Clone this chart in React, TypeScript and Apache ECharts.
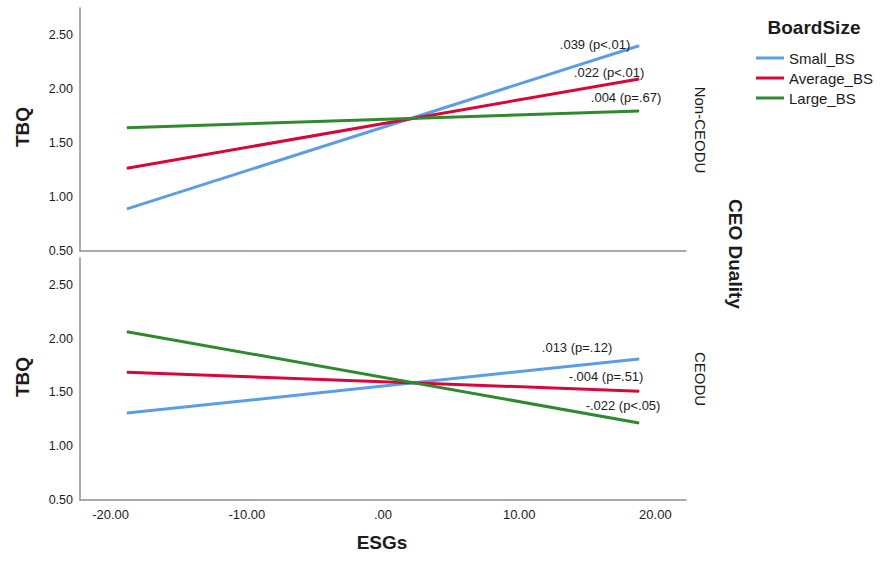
import React, { useEffect, useRef } from "react";
import * as echarts from "echarts";

// ---- data ----
const groups = ["Small_BS", "Average_BS", "Large_BS"];
const esgEnds = [-18.8, 18.8];
// Non-CEODU panel (start, end TBQ)
const nonCeoSmall = [0.89, 2.4];
const nonCeoAverage = [1.266, 2.093];
const nonCeoLarge = [1.642, 1.796];
// CEODU panel
const ceoSmall = [1.308, 1.812];
const ceoAverage = [1.688, 1.512];
const ceoLarge = [2.065, 1.216];
// slope annotations
const nonCeoSlopes = [".039 (p<.01)", ".022 (p<.01)", ".004 (p=.67)"];
const ceoSlopes = [".013 (p=.12)", "-.004 (p=.51)", "-.022 (p<.05)"];
const yTicks = [0.5, 1.0, 1.5, 2.0, 2.5];
const xTicks = [-20, -10, 0, 10, 20];

// ---- style ----
const colors = ["#5b9de6", "#d9063c", "#2f8a2f"];
const FONT = "'Liberation Sans', Arial, sans-serif";
const TXT = "#1c1c1c";
const AXIS = "#8f8f8f";
const nonCeoOffsets = [[-44, 6], [-30, 1], [-13, -6]];
const ceoOffsets = [[-62, -4], [-33, -7], [-16, -10]];

export default function App() {
  const ref = useRef<HTMLDivElement>(null);
  useEffect(() => {
    if (!ref.current) return;
    const chart = echarts.init(ref.current, undefined, { renderer: "svg" });

    const yFmt = (v: number) =>
      yTicks.some((t) => Math.abs(t - v) < 1e-6) ? v.toFixed(2) : "";
    const xFmt = (v: number) => {
      if (!xTicks.some((t) => Math.abs(t - v) < 1e-6)) return "";
      return Math.abs(v) < 1e-6 ? ".00" : v.toFixed(2);
    };

    const mkY = (gi: number) => ({
      type: "value",
      gridIndex: gi,
      min: 0.5,
      max: 2.75,
      interval: 0.5,
      axisLine: { show: true, onZero: false, lineStyle: { color: AXIS, width: 1.5 } },
      axisTick: { show: false },
      splitLine: { show: false },
      axisLabel: {
        formatter: yFmt,
        margin: 7,
        fontSize: 12.5,
        color: TXT,
        fontFamily: FONT,
      },
    });
    const mkX = (gi: number, labels: boolean) => ({
      type: "value",
      gridIndex: gi,
      min: -22.25,
      max: 22.25,
      axisLine: { show: true, onZero: false, lineStyle: { color: AXIS, width: 1.5 } },
      axisTick: { show: false },
      splitLine: { show: false },
      axisLabel: {
        show: labels,
        formatter: xFmt,
        margin: 8,
        fontSize: 13,
        color: TXT,
        fontFamily: FONT,
      },
    });

    const panels = [
      { vals: [nonCeoSmall, nonCeoAverage, nonCeoLarge], slopes: nonCeoSlopes, offs: nonCeoOffsets },
      { vals: [ceoSmall, ceoAverage, ceoLarge], slopes: ceoSlopes, offs: ceoOffsets },
    ];
    const series: any[] = [];
    panels.forEach((p, pi) => {
      p.vals.forEach((vals, gi) => {
        series.push({
          type: "line",
          name: groups[gi],
          xAxisIndex: pi,
          yAxisIndex: pi,
          symbol: "circle",
          symbolSize: 1,
          showSymbol: true,
          color: colors[gi],
          lineStyle: { width: 3, color: colors[gi] },
          itemStyle: { color: colors[gi] },
          emphasis: { disabled: true },
          data: [
            [esgEnds[0], vals[0]],
            {
              value: [esgEnds[1], vals[1]],
              label: {
                show: true,
                formatter: p.slopes[gi],
                position: "top",
                distance: 0,
                offset: p.offs[gi],
                fontSize: 13,
                lineHeight: 14,
                color: TXT,
                fontFamily: FONT,
              },
            },
          ],
        });
      });
    });

    chart.setOption({
      animation: false,
      backgroundColor: "#ffffff",
      grid: [
        { left: 80, top: 8, width: 606, height: 243 },
        { left: 80, top: 258, width: 606, height: 242 },
      ],
      xAxis: [mkX(0, false), mkX(1, true)],
      yAxis: [mkY(0), mkY(1)],
      legend: {
        orient: "vertical",
        left: 756,
        top: 48,
        padding: 0,
        itemWidth: 28,
        itemHeight: 3,
        itemGap: 0,
        icon: "rect",
        selectedMode: false,
        data: groups.map((g, i) => ({ name: g, itemStyle: { color: colors[i] } })),
        textStyle: { fontSize: 15, lineHeight: 20, color: TXT, fontFamily: FONT },
      },
      graphic: [
        {
          type: "text",
          x: 814,
          y: 27,
          style: { text: "BoardSize", fontSize: 19, fontWeight: "bold", fill: TXT, fontFamily: FONT, align: "center", verticalAlign: "middle" },
        },
        {
          type: "text",
          x: 22,
          y: 127,
          rotation: Math.PI / 2,
          style: { text: "TBQ", fontSize: 19, fontWeight: "bold", fill: TXT, fontFamily: FONT, align: "center", verticalAlign: "middle" },
        },
        {
          type: "text",
          x: 22,
          y: 377,
          rotation: Math.PI / 2,
          style: { text: "TBQ", fontSize: 19, fontWeight: "bold", fill: TXT, fontFamily: FONT, align: "center", verticalAlign: "middle" },
        },
        {
          type: "text",
          x: 382,
          y: 542,
          style: { text: "ESGs", fontSize: 19, fontWeight: "bold", fill: TXT, fontFamily: FONT, align: "center", verticalAlign: "middle" },
        },
        {
          type: "text",
          x: 700,
          y: 130,
          rotation: -Math.PI / 2,
          style: { text: "Non-CEODU", fontSize: 15, fill: TXT, fontFamily: FONT, align: "center", verticalAlign: "middle" },
        },
        {
          type: "text",
          x: 700,
          y: 379,
          rotation: -Math.PI / 2,
          style: { text: "CEODU", fontSize: 15, fill: TXT, fontFamily: FONT, align: "center", verticalAlign: "middle" },
        },
        {
          type: "text",
          x: 735,
          y: 254,
          rotation: -Math.PI / 2,
          style: { text: "CEO Duality", fontSize: 19, fontWeight: "bold", fill: TXT, fontFamily: FONT, align: "center", verticalAlign: "middle" },
        },
      ],
      series,
    });
    return () => chart.dispose();
  }, []);
  return (
    <div
      ref={ref}
      style={{ position: "fixed", left: 0, top: 0, width: 881, height: 561, background: "#fff" }}
    />
  );
}
